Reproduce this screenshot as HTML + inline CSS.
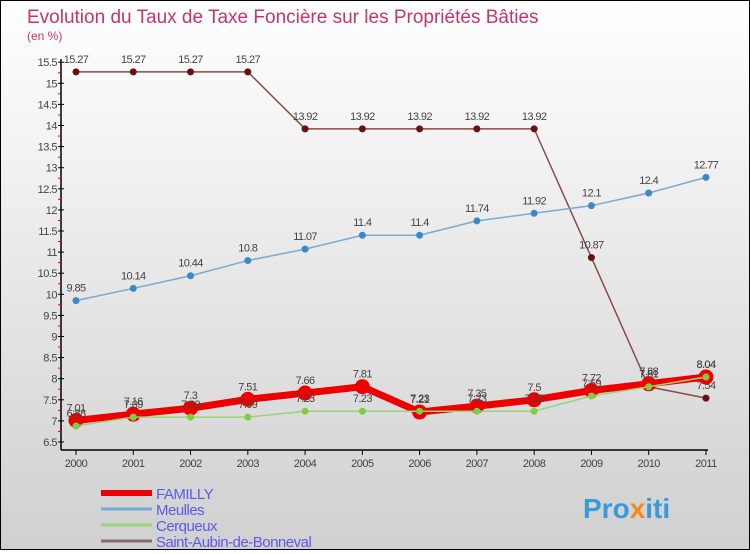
<!DOCTYPE html>
<html><head><meta charset="utf-8"><style>
html,body{margin:0;padding:0}
body{width:750px;height:550px;overflow:hidden;font-family:"Liberation Sans",sans-serif}
#wrap{position:relative;width:748px;height:548px;border:1px solid #000;background:linear-gradient(#ffffff,#d0d0d0)}
</style></head><body>
<div id="wrap">
<svg id="chart" width="748" height="548">
<text x="26" y="22" font-size="19" fill="#c8336a">Evolution du Taux de Taxe Foncière sur les Propriétés Bâties</text>
<text x="26" y="39" font-size="12" fill="#c8336a">(en %)</text>
<g id="axes"></g><g id="series"></g><g id="legend"></g>
<text x="582" y="517" font-size="28" font-weight="bold" fill="#3a9ad9">Pro<tspan fill="#f08a1c">x</tspan>iti</text>
</svg></div>
<script>
const years=["2000","2001","2002","2003","2004","2005","2006","2007","2008","2009","2010","2011"];
const famillyValues=[7.01,7.16,7.3,7.51,7.66,7.81,7.21,7.35,7.5,7.72,7.88,8.04];
const meullesValues=[9.85,10.14,10.44,10.8,11.07,11.4,11.4,11.74,11.92,12.1,12.4,12.77];
const cerqueuxValues=[6.88,7.09,7.09,7.09,7.23,7.23,7.23,7.23,7.23,7.59,7.81,8.04];
const saintAubinValues=[15.27,15.27,15.27,15.27,13.92,13.92,13.92,13.92,13.92,10.87,7.81,7.54];
const yTicks=[6.5,7,7.5,8,8.5,9,9.5,10,10.5,11,11.5,12,12.5,13,13.5,14,14.5,15,15.5];
const seriesNames=["FAMILLY","Meulles","Cerqueux","Saint-Aubin-de-Bonneval"];
const NS="http://www.w3.org/2000/svg";
function x(i){return 75+i*57.27;}
function y(v){return 441-(v-6.5)*42.2;}
function mk(tag,attrs,parent,txt){const e=document.createElementNS(NS,tag);for(const k in attrs)e.setAttribute(k,attrs[k]);if(txt!==undefined)e.textContent=txt;parent.appendChild(e);return e;}
const axes=document.getElementById('axes');
let e=mk('line',{x1:60,y1:58,x2:60,y2:449,stroke:'#000','stroke-width':1.5},axes);

e=mk('line',{x1:60,y1:449,x2:707,y2:449,stroke:'#000','stroke-width':1.5},axes);

yTicks.forEach((t,i)=>{
 mk('line',{x1:57,y1:y(t),x2:63,y2:y(t),stroke:'#000'},axes);
 if(i<yTicks.length-1) mk('line',{x1:57,y1:y(t+0.25),x2:60,y2:y(t+0.25),stroke:'#e00'},axes);
 const l=mk('text',{x:56,y:y(t)+4,'font-size':11,'text-anchor':'end',fill:'#444','letter-spacing':'-0.5'},axes,String(t));
 
});
years.forEach((yr,i)=>{
 mk('line',{x1:x(i),y1:449,x2:x(i),y2:454,stroke:'#000'},axes);
 const l=mk('text',{x:x(i),y:466,'font-size':11,'text-anchor':'middle',fill:'#444','letter-spacing':'-0.5'},axes,yr);
 
});
const ser=document.getElementById('series');
function draw(vals,name,color,width,r,dot){
 const g=mk('g',{},ser);
 
 const p=mk('polyline',{points:vals.map((v,i)=>x(i)+','+y(v)).join(' '),fill:'none',stroke:color,'stroke-width':width,'stroke-linejoin':'round'},g);
 
 vals.forEach((v,i)=>{
  const c=mk('circle',{cx:x(i),cy:y(v),r:r,fill:dot},g);
  
  const t=mk('text',{x:x(i),y:y(v)-9,'font-size':11,'text-anchor':'middle',fill:'#444','letter-spacing':'-0.6'},g,String(v));
  
 });
}
draw(saintAubinValues,'saint-aubin','#8a4a4a',1.5,3.5,'#6a1010');
draw(meullesValues,'meulles','#7aaad0',1.5,3.5,'#3a8ac8');
draw(famillyValues,'familly','#ee0000',7,7.5,'#ee0000');
draw(cerqueuxValues,'cerqueux','#9ad27a',1.5,3.5,'#7ad040');
const lg=document.getElementById('legend');
const lc=['#ee0000','#7aaad0','#9ad27a','#8a6a6a'],lw=[6,3,3,3];
seriesNames.forEach((n,i)=>{
 const yy=492+i*16;
 const g=mk('g',{},lg);
 
 mk('line',{x1:100,y1:yy,x2:151,y2:yy,stroke:lc[i],'stroke-width':lw[i]},g);
 mk('text',{x:155,y:yy+6,'font-size':15,fill:'#5a5aee','letter-spacing':'-0.5'},g,n);
});
</script>
</body></html>
